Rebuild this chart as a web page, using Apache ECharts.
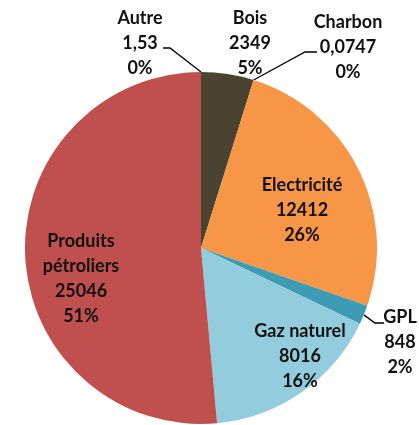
<!DOCTYPE html>
<html>
<head>
<meta charset="utf-8">
<script src="https://cdn.jsdelivr.net/npm/echarts@6/dist/echarts.min.js"></script>
<style>
  html, body { margin: 0; padding: 0; background: #fff; }
  #chart { width: 419px; height: 425px; }
</style>
</head>
<body>
<div id="chart"></div>
<script>
// données de consommation
var categories = ['Autre', 'Bois', 'Charbon', 'Electricité', 'GPL', 'Gaz naturel', 'Produits pétroliers']
var values = [1.53, 2349, 0.0747, 12412, 848, 8016, 25046]
var colors = ['#C0504D', '#4B4331', '#F79646', '#F79646', '#3D9BB4', '#93CDDD', '#C0504D']

// position des étiquettes (centre du bloc de texte) et du coude du trait
var labelPos = [
  { x: 140, y: 43, line: [[170, 48], [163, 48]] },
  { x: 250, y: 43 },
  { x: 348, y: 47, line: [[305, 52], [317, 52]] },
  { x: 302, y: 210 },
  { x: 400, y: 342, line: [[375, 323], [384, 323]] },
  { x: 300, y: 356 },
  { x: 81, y: 279 }
]
var outside = [true, true, true, false, true, false, false]
var withLine = [true, false, true, false, true, false, false]

var chart = echarts.init(document.getElementById('chart'))

var seriesData = categories.map(function (name, i) {
  return {
    name: name,
    value: values[i],
    itemStyle: { color: colors[i] },
    label: { position: outside[i] ? 'outside' : 'inside' },
    labelLine: { show: withLine[i] }
  }
})

chart.setOption({
  animation: false,
  backgroundColor: '#fff',
  series: [{
    type: 'pie',
    center: [201, 248],
    radius: 176,
    startAngle: 90,
    clockwise: true,
    avoidLabelOverlap: false,
    itemStyle: { borderWidth: 0 },
    label: {
      show: true,
      fontFamily: 'Lato',
      fontWeight: 'bold',
      fontSize: 18,
      lineHeight: 25,
      color: '#111',
      align: 'center',
      formatter: function (p) {
        var name = p.dataIndex === 6 ? p.name.replace(' ', '\n') : p.name
        var val = String(p.value).replace('.', ',')
        return name + '\n' + val + '\n' + Math.round(p.percent) + '%'
      }
    },
    labelLine: {
      show: true,
      lineStyle: { color: '#000', width: 1.3 }
    },
    labelLayout: function (p) {
      var pos = labelPos[p.dataIndex]
      var res = { x: pos.x, y: pos.y, align: 'center', verticalAlign: 'middle' }
      if (pos.line && p.labelLinePoints) {
        res.labelLinePoints = [p.labelLinePoints[0]].concat(pos.line)
      }
      return res
    },
    data: seriesData
  }]
})
</script>
</body>
</html>
